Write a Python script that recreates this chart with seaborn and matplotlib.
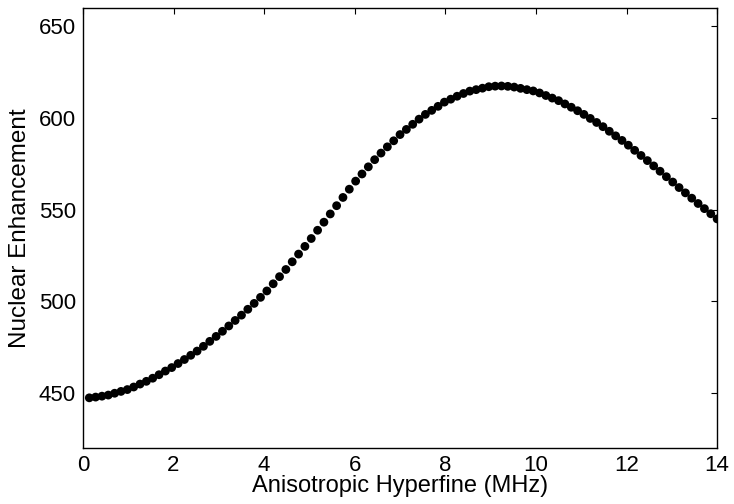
import matplotlib
matplotlib.use("Agg")
import matplotlib.pyplot as plt
import seaborn as sns
import pandas as pd

hyperfine_mhz = [
    0.14, 0.28, 0.42, 0.56, 0.70, 0.84, 0.98, 1.12, 1.26, 1.40,
    1.54, 1.68, 1.82, 1.96, 2.10, 2.24, 2.38, 2.52, 2.66, 2.80,
    2.94, 3.08, 3.22, 3.36, 3.50, 3.64, 3.78, 3.92, 4.06, 4.20,
    4.34, 4.48, 4.62, 4.76, 4.90, 5.04, 5.18, 5.32, 5.46, 5.60,
    5.74, 5.88, 6.02, 6.16, 6.30, 6.44, 6.58, 6.72, 6.86, 7.00,
    7.14, 7.28, 7.42, 7.56, 7.70, 7.84, 7.98, 8.12, 8.26, 8.40,
    8.54, 8.68, 8.82, 8.96, 9.10, 9.24, 9.38, 9.52, 9.66, 9.80,
    9.94, 10.08, 10.22, 10.36, 10.50, 10.64, 10.78, 10.92, 11.06, 11.20,
    11.34, 11.48, 11.62, 11.76, 11.90, 12.04, 12.18, 12.32, 12.46, 12.60,
    12.74, 12.88, 13.02, 13.16, 13.30, 13.44, 13.58, 13.72, 13.86, 14.00,
]

enhancement = [
    447.4, 447.8, 448.3, 448.9, 449.9, 450.9, 451.9, 453.3, 454.9, 456.4,
    458.1, 460.0, 462.0, 463.9, 466.1, 468.3, 470.6, 472.9, 475.5, 478.2,
    480.9, 483.7, 486.6, 489.6, 492.5, 495.7, 498.9, 502.2, 505.7, 509.6,
    513.5, 517.4, 521.6, 525.8, 530.0, 534.3, 538.8, 543.2, 547.7, 552.2,
    556.7, 561.2, 565.6, 569.5, 573.4, 577.3, 580.9, 584.3, 587.6, 591.0,
    593.8, 596.6, 599.4, 602.0, 604.2, 606.4, 608.7, 610.3, 611.9, 613.4,
    614.7, 615.5, 616.3, 617.1, 617.4, 617.5, 617.3, 616.9, 616.2, 615.5,
    614.8, 613.7, 612.3, 610.9, 609.5, 607.7, 605.9, 604.0, 602.0, 599.8,
    597.6, 595.3, 592.8, 590.3, 587.8, 585.2, 582.4, 579.6, 576.8, 573.9,
    571.0, 568.0, 565.1, 562.1, 559.2, 556.3, 553.4, 550.6, 547.8, 545.0,
]

x_ticks = [0, 2, 4, 6, 8, 10, 12, 14]
y_ticks = [450, 500, 550, 600, 650]

sns.set_theme(style="white")
plt.rcParams["font.family"] = ["Liberation Sans", "DejaVu Sans"]

df = pd.DataFrame({"x": hyperfine_mhz, "y": enhancement})

fig = plt.figure(figsize=(7.34, 5.04), dpi=100)
ax = fig.add_axes([0.113, 0.111, 0.864, 0.873])

sns.scatterplot(data=df, x="x", y="y", ax=ax, color="black", s=40,
                edgecolor="none", linewidth=0, legend=False)

ax.set_xlim(0, 14)
ax.set_ylim(420, 660)
ax.set_xticks(x_ticks)
ax.set_yticks(y_ticks)
ax.tick_params(direction="in", length=4, width=0.8, top=True, right=True,
               labelsize=16, colors="black", pad=5)
for sp in ax.spines.values():
    sp.set_color("black")
    sp.set_linewidth(1.0)
    sp.set_visible(True)

ax.set_xlabel("Anisotropic Hyperfine (MHz)", fontsize=17, color="black", labelpad=-1)
ax.set_ylabel("Nuclear Enhancement", fontsize=17.5, color="black", labelpad=6)

fig.savefig("out.png", dpi=100, facecolor="white")
